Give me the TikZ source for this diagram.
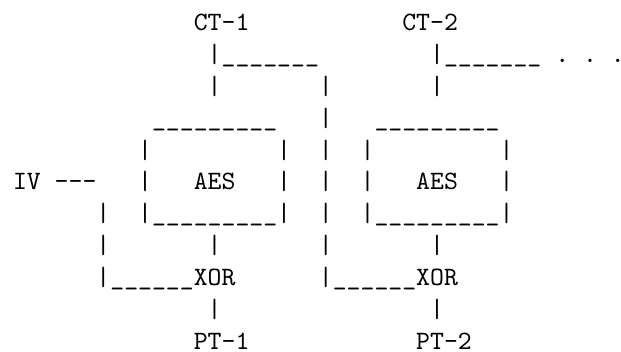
\documentclass[tikz,border=0pt]{standalone}
\usepackage{tikz}
\tikzstyle{every node}=[font=\ttfamily\frenchspacing]
\tikzstyle{tt}=[anchor=base west,inner sep=0pt,outer sep=0pt]

\begin{document}
\begin{tikzpicture}[x=5.25pt,y=-12.08pt]
  \useasboundingbox (-0.94,-0.94) rectangle (43.73,10.06);
  % top: cipher text blocks
  \node[tt] (ct1) at (13,0) {CT-1};
  \node[tt] (ct2) at (28,0) {CT-2};
  \node[tt] (tapA) at (14,1) {|\_\_\_\_\_\_\_};
  \node[tt] (tapB) at (30,1) {|\_\_\_\_\_\_\_};
  \node[tt] (dots) at (39,1) {. . .};
  \node[tt] (inA) at (14,2) {|};
  \node[tt] (fwd2) at (22,2) {|};
  \node[tt] (inB) at (30,2) {|};
  % AES boxes
  \node[tt] (topA) at (10,3) {\_\_\_\_\_\_\_\_\_};
  \node[tt] (fwd3) at (22,3) {|};
  \node[tt] (topB) at (26,3) {\_\_\_\_\_\_\_\_\_};
  \node[tt] (lA4) at (9,4) {|};
  \node[tt] (rA4) at (19,4) {|};
  \node[tt] (fwd4) at (22,4) {|};
  \node[tt] (lB4) at (25,4) {|};
  \node[tt] (rB4) at (35,4) {|};
  \node[tt] (iv) at (0,5) {IV {-}{-}{-}};
  \node[tt] (lA5) at (9,5) {|};
  \node[tt] (aesA) at (13,5) {AES};
  \node[tt] (rA5) at (19,5) {|};
  \node[tt] (fwd5) at (22,5) {|};
  \node[tt] (lB5) at (25,5) {|};
  \node[tt] (aesB) at (29,5) {AES};
  \node[tt] (rB5) at (35,5) {|};
  \node[tt] (iv6) at (6,6) {|};
  \node[tt] (botA) at (9,6) {|\_\_\_\_\_\_\_\_\_|};
  \node[tt] (fwd6) at (22,6) {|};
  \node[tt] (botB) at (25,6) {|\_\_\_\_\_\_\_\_\_|};
  % xor stage
  \node[tt] (iv7) at (6,7) {|};
  \node[tt] (outA) at (14,7) {|};
  \node[tt] (fwd7) at (22,7) {|};
  \node[tt] (outB) at (30,7) {|};
  \node[tt] (xorA) at (6,8) {|\_\_\_\_\_\_XOR};
  \node[tt] (xorB) at (22,8) {|\_\_\_\_\_\_XOR};
  \node[tt] (ptA) at (14,9) {|};
  \node[tt] (ptB) at (30,9) {|};
  \node[tt] (pt1) at (13,10) {PT-1};
  \node[tt] (pt2) at (29,10) {PT-2};
\end{tikzpicture}
\end{document}
